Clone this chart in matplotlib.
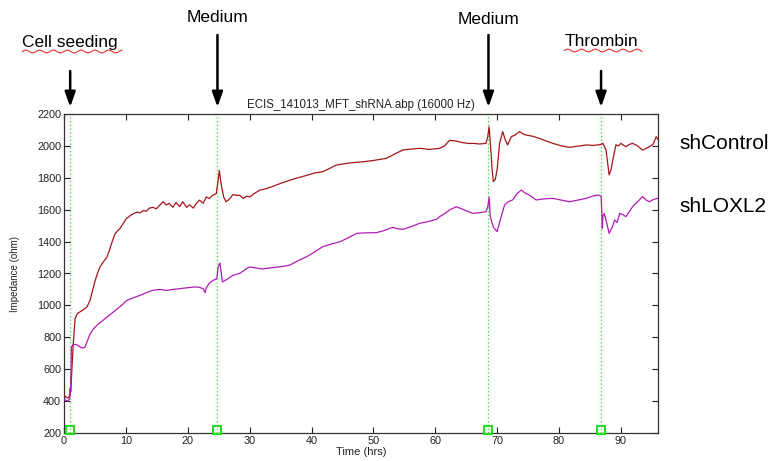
import numpy as np
import matplotlib.pyplot as plt

plt.rcParams['font.family'] = ['Liberation Sans', 'DejaVu Sans']

# impedance traces (hours, ohm)
ctrl_t = [0, 0.3, 0.6, 0.9, 1.0, 1.1, 1.3, 1.5, 1.8, 2.2, 2.6, 3.2, 3.7, 4.2, 4.6, 5.0,
          5.4, 5.8, 6.3, 6.9, 7.3, 7.7, 8.2, 8.6, 9.0, 9.5, 10.1, 10.6, 11.2, 11.8, 12.3,
          12.8, 13.3, 13.8, 14.4, 14.9, 15.4, 16.0, 16.5, 17.0, 17.6, 18.1, 18.7, 19.2,
          19.8, 20.3, 20.9, 21.4, 21.9, 22.5, 23.0, 23.5, 24.0, 24.6, 24.9, 25.1, 25.4,
          25.8, 26.2, 26.7, 27.3, 27.9, 28.4, 29.0, 29.5, 30.0, 30.7, 31.6, 32.5, 33.7,
          35.0, 36.5, 37.8, 39.2, 40.5, 41.8, 43.0, 44.0, 45.3, 46.7, 48.2, 49.9, 51.0,
          52.1, 53.5, 54.8, 56.2, 57.5, 59.0, 60.7, 61.5, 62.3, 63.4, 64.5, 65.5, 66.1,
          67.2, 68.2, 68.5, 68.7, 68.9, 69.2, 69.4, 69.7, 70.0, 70.4, 70.9, 71.3, 71.7,
          72.3, 73.0, 73.6, 74.2, 74.7, 75.8, 76.8, 78.0, 79.0, 80.4, 81.7, 83.0, 84.4,
          85.5, 86.3, 86.8, 87.1, 87.3, 87.6, 87.9, 88.1, 88.4, 88.7, 89.2, 89.6, 90.0,
          90.4, 90.8, 91.4, 91.9, 92.7, 93.5, 94.1, 94.6, 95.2, 95.7, 96.0]
ctrl_z = [440, 425, 420, 430, 480, 460, 620, 760, 920, 950, 960, 975, 990, 1030, 1090, 1150,
          1200, 1240, 1270, 1300, 1340, 1390, 1445, 1465, 1480, 1510, 1545, 1560, 1575, 1585,
          1580, 1595, 1590, 1610, 1615, 1605, 1625, 1650, 1630, 1640, 1615, 1645, 1620, 1650,
          1615, 1630, 1610, 1640, 1660, 1640, 1680, 1670, 1690, 1700, 1780, 1845, 1760,
          1680, 1650, 1665, 1695, 1690, 1690, 1670, 1685, 1680, 1700, 1722, 1730, 1745,
          1765, 1785, 1800, 1815, 1830, 1838, 1860, 1880, 1888, 1895, 1900, 1908, 1915,
          1922, 1950, 1975, 1980, 1985, 1978, 1985, 2000, 2035, 2030, 2020, 2015, 2016,
          2012, 2016, 2060, 2120, 2020, 1850, 1776, 1790, 1850, 2016, 2090, 2040, 2006,
          2058, 2070, 2090, 2075, 2068, 2060, 2047, 2030, 2016, 2000, 1991, 1998, 2006,
          2003, 2006, 2010, 2016, 2000, 1974, 1880, 1818, 1850, 1912, 2006, 2000, 2016,
          2005, 1995, 2010, 2016, 2000, 1974, 1985, 1995, 2010, 2058, 2040]

lox_t = [0, 0.3, 0.6, 0.9, 1.0, 1.1, 1.2, 1.5, 2.0, 2.4, 2.8, 3.1, 3.4, 3.8, 4.2, 4.7, 5.3,
         6.1, 6.9, 7.7, 8.5, 9.3, 10.1, 11.2, 12.3, 13.3, 14.4, 15.5, 16.6, 17.6, 18.7, 19.8,
         20.9, 21.7, 22.5, 22.8, 23.0, 23.5, 24.1, 24.7, 24.9, 25.2, 25.4, 25.6, 26.2, 26.8,
         27.3, 28.4, 29.5, 30.0, 31.0, 32.1, 33.3, 34.5, 35.5, 36.5, 37.8, 39.2, 40.5, 41.8,
         43.2, 44.6, 46.0, 47.3, 48.9, 50.5, 51.8, 53.1, 54.0, 54.8, 56.2, 57.5, 58.8, 60.2,
         60.7, 61.5, 62.3, 63.4, 64.3, 65.2, 66.1, 67.2, 68.2, 68.5, 68.7, 68.9, 69.4, 70.0,
         70.5, 71.2, 71.8, 72.5, 73.2, 73.9, 74.5, 75.3, 76.3, 77.6, 79.0, 80.4, 81.7, 83.0,
         84.4, 85.4, 86.3, 86.8, 86.9, 87.0, 87.1, 87.3, 87.7, 88.1, 88.6, 89.0, 89.4, 89.8,
         90.3, 90.8, 91.4, 91.9, 92.7, 93.5, 94.1, 94.6, 95.3, 95.9]
lox_z = [410, 405, 400, 415, 440, 520, 740, 755, 755, 745, 735, 733, 740, 780, 820, 850, 875,
         900, 925, 950, 975, 1000, 1030, 1048, 1063, 1080, 1095, 1100, 1094, 1100, 1105, 1110,
         1115, 1115, 1105, 1080, 1110, 1140, 1157, 1167, 1240, 1266, 1210, 1147, 1160, 1175,
         1188, 1201, 1230, 1241, 1235, 1228, 1235, 1240, 1245, 1253, 1280, 1305, 1335, 1368,
         1385, 1399, 1425, 1452, 1455, 1456, 1470, 1489, 1480, 1477, 1495, 1515, 1525, 1540,
         1556, 1575, 1598, 1619, 1605, 1590, 1577, 1582, 1587, 1620, 1678, 1556, 1490, 1462,
         1535, 1629, 1650, 1661, 1700, 1723, 1705, 1690, 1661, 1668, 1671, 1660, 1650, 1660,
         1671, 1685, 1692, 1686, 1600, 1483, 1560, 1577, 1520, 1452, 1490, 1535, 1520, 1577,
         1570, 1556, 1590, 1619, 1650, 1682, 1660, 1650, 1665, 1671]

event_t = [1.0, 24.8, 68.6, 86.8]
event_labels = ['Cell seeding', 'Medium', 'Medium', 'Thrombin']
spellchecked = [True, False, False, True]

W, H = 782, 461
fig = plt.figure(figsize=(W / 100, H / 100), dpi=100)
ax = fig.add_axes([64 / W, 28 / H, 594 / W, 319 / H])

for t in event_t:
    ax.axvspan(t - 0.6, t + 0.6, color='#fafafa', zorder=0, lw=0)
    ax.axvline(t, color='#3ddc3d', ls=(0, (1, 2)), lw=0.9, zorder=1)
ax.plot(event_t, [220] * len(event_t), ls='none', marker='s', ms=6, mfc='none',
        mec='#22dd22', mew=1.5, zorder=4, clip_on=False)

ax.plot(ctrl_t, ctrl_z, color='#a3161a', lw=0.9, zorder=3)
ax.plot(lox_t, lox_z, color='#b01cb4', lw=0.9, zorder=3)

ax.set_xlim(0, 96)
ax.set_ylim(200, 2200)
ax.set_xticks(range(0, 91, 10))
ax.set_yticks(range(200, 2201, 200))
ax.tick_params(direction='in', top=True, right=True, length=4, width=0.8,
               labelsize=7.8, colors='#222222', pad=2)
for s in ax.spines.values():
    s.set_linewidth(0.9)
    s.set_color('#333333')

ax.set_title('ECIS_141013_MFT_shRNA.abp (16000 Hz)', fontsize=8.3, pad=4, color='#222222')
ax.set_xlabel('Time (hrs)', fontsize=8, labelpad=1, color='#222222')
ax.set_ylabel('Impedance (ohm)', fontsize=7, color='#222222')
ax.yaxis.set_label_coords(-44 / 594, 0.5)

# arrows and event names above the axes
text_y = [42, 18, 20, 41]
arrow_top = [71, 35, 35, 71]
texts = []
for t, lab, ty, at in zip(event_t, event_labels, text_y, arrow_top):
    ax.annotate('', xy=(t, 1 - 107 / H), xycoords=('data', 'figure fraction'),
                xytext=(t, 1 - at / H), textcoords=('data', 'figure fraction'),
                arrowprops=dict(arrowstyle='-|>,head_width=0.32,head_length=0.9',
                                lw=1.8, color='black', shrinkA=0, shrinkB=0),
                annotation_clip=False)
    txt = ax.annotate(lab, xy=(t, 1 - ty / H), xycoords=('data', 'figure fraction'),
                      ha='center', va='center', fontsize=12.5, annotation_clip=False)
    texts.append(txt)

fig.text(679 / W, 1 - 143 / H, 'shControl', fontsize=15, va='center', ha='left')
fig.text(679 / W, 1 - 206 / H, 'shLOXL2', fontsize=15, va='center', ha='left')

# red squiggle under the spell-checked words
fig.canvas.draw()
for txt, flag in zip(texts, spellchecked):
    if not flag:
        continue
    bb = txt.get_window_extent()
    xs = np.linspace(bb.x0, bb.x1 + 4, 200)
    ys = bb.y0 - 2 + 1.4 * np.sin((xs - bb.x0) / 2.2)
    fig.add_artist(plt.Line2D(xs / W, ys / H, color='#e8302a', lw=0.8))

plt.savefig('out.png', dpi=100)
